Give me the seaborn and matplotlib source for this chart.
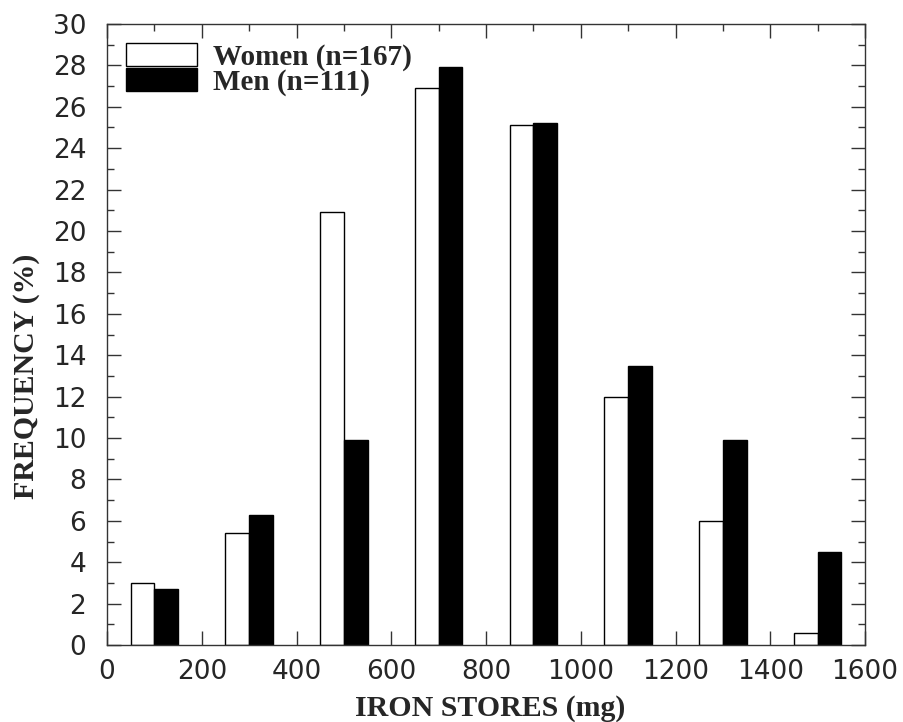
import pandas as pd
import matplotlib.pyplot as plt
import seaborn as sns
from matplotlib.ticker import MultipleLocator

# bin centres (mg) and frequencies (%)
bin_centres = [100, 300, 500, 700, 900, 1100, 1300, 1500]
women_pct = [3.0, 5.4, 20.9, 26.9, 25.1, 12.0, 6.0, 0.6]
men_pct = [2.7, 6.3, 9.9, 27.9, 25.2, 13.5, 9.9, 4.5]
groups = ["Women (n=167)", "Men (n=111)"]
x_ticks = [0, 200, 400, 600, 800, 1000, 1200, 1400, 1600]
y_ticks = list(range(0, 31, 2))


def main():
    df = pd.DataFrame({
        "iron": bin_centres * 2,
        "freq": women_pct + men_pct,
        "group": [groups[0]] * len(bin_centres) + [groups[1]] * len(bin_centres),
    })

    sns.set_style("ticks")
    fig = plt.figure(figsize=(9.04, 7.22), dpi=100)
    ax = fig.add_axes([0.1184, 0.1066, 0.8385, 0.8602])

    sns.barplot(
        data=df, x="iron", y="freq", hue="group", hue_order=groups,
        palette={groups[0]: "white", groups[1]: "black"},
        native_scale=True, width=0.5, dodge=True,
        edgecolor="black", linewidth=1, errorbar=None, ax=ax,
    )

    ax.set_xlim(0, 1600)
    ax.set_ylim(0, 30)
    ax.set_xticks(x_ticks)
    ax.set_yticks(y_ticks)
    ax.xaxis.set_minor_locator(MultipleLocator(100))
    ax.yaxis.set_minor_locator(MultipleLocator(1))
    ax.tick_params(which="both", direction="in", top=True, right=True,
                   color="#333333", width=1)
    ax.tick_params(which="major", length=10, labelsize=19)
    ax.tick_params(which="minor", length=5)
    ax.tick_params(axis="x", which="major", pad=10)
    ax.tick_params(axis="y", which="major", pad=15)
    for lab in ax.get_xticklabels() + ax.get_yticklabels():
        lab.set_family("DejaVu Sans")
    for sp in ax.spines.values():
        sp.set_visible(True)
        sp.set_color("#333333")
        sp.set_linewidth(1)

    serif_bold = {"family": "Liberation Serif", "weight": "bold", "size": 21.5}
    ax.set_xlabel("IRON STORES (mg)", fontdict=serif_bold)
    ax.set_ylabel("FREQUENCY (%)", fontdict=serif_bold)
    ax.xaxis.set_label_coords(0.505, -0.08)
    ax.yaxis.set_label_coords(-0.088, 0.433)

    handles, labels = ax.get_legend_handles_labels()
    ax.legend(handles, labels, loc="upper left", frameon=False,
              prop={"family": "Liberation Serif", "weight": "bold", "size": 21},
              handlelength=2.43, handleheight=0.82, handletextpad=0.55,
              labelspacing=-0.1, borderpad=0, borderaxespad=0,
              bbox_to_anchor=(0.025, 0.969))

    fig.savefig("out.png", dpi=100)


if __name__ == "__main__":
    main()
